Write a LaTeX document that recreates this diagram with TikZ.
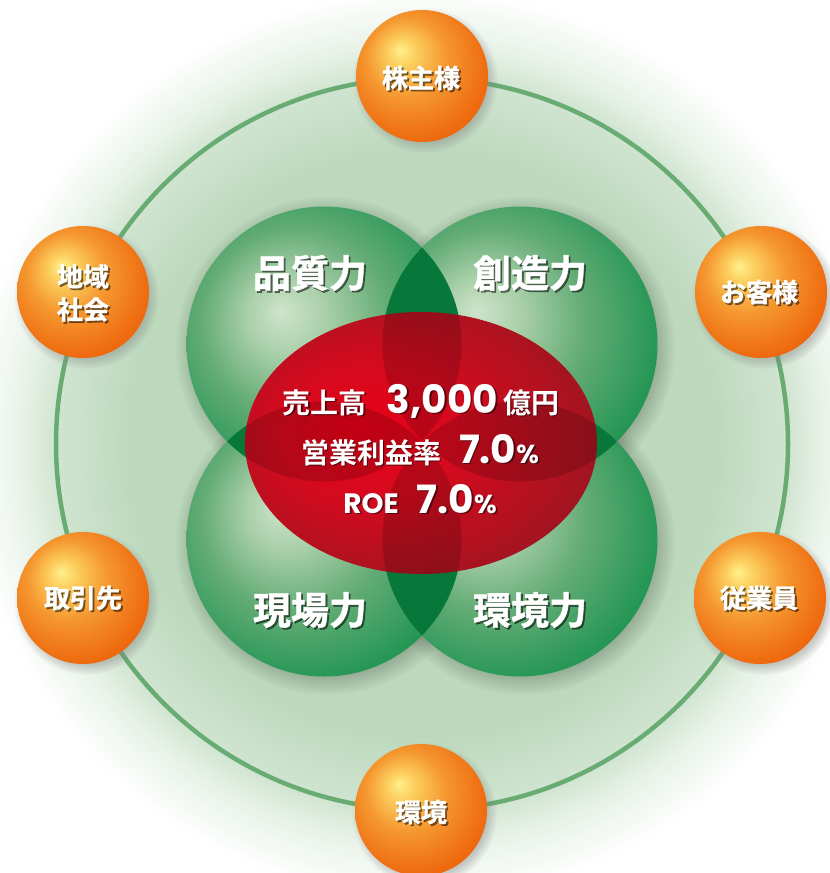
\documentclass[tikz,border=0pt]{standalone}
\usepackage{fontspec}
\newfontfamily\jp{Noto Sans CJK JP Bold}
\newfontfamily\jpheavy{Noto Sans CJK JP Bold}[FakeBold=1.2]
\newfontfamily\num{Poppins}
\usetikzlibrary{shadows,fadings}
\definecolor{ringgreen}{RGB}{104,172,116}
\definecolor{glowA}{RGB}{188,217,188}
\definecolor{glowB}{RGB}{208,228,208}
\definecolor{glowC}{RGB}{232,242,232}
\definecolor{lensgreen}{RGB}{8,120,58}
\definecolor{gA}{RGB}{206,228,202}
\definecolor{gB}{RGB}{170,208,170}
\definecolor{gC}{RGB}{100,172,118}
\definecolor{gD}{RGB}{24,146,78}
\definecolor{oA}{RGB}{255,240,140}
\definecolor{oB}{RGB}{252,208,96}
\definecolor{oC}{RGB}{245,152,48}
\definecolor{oD}{RGB}{239,110,18}
\definecolor{oE}{RGB}{232,80,0}
\definecolor{rA}{RGB}{232,0,22}
\definecolor{rB}{RGB}{214,10,30}
\definecolor{rC}{RGB}{176,18,32}
\definecolor{rD}{RGB}{136,24,34}
\pgfdeclareradialshading{glow}{\pgfpointorigin}{color(0bp)=(glowA); color(16bp)=(glowA); color(20.1bp)=(glowB); color(22bp)=(glowC); color(25bp)=(white); color(50bp)=(white)}
\pgfdeclareradialshading{greenball}{\pgfpoint{-8bp}{6bp}}{color(0bp)=(gA); color(7bp)=(gB); color(17bp)=(gC); color(31bp)=(gD); color(50bp)=(gD)}
\pgfdeclareradialshading{orangeball}{\pgfpoint{-8.5bp}{10bp}}{color(0bp)=(oA); color(5bp)=(oB); color(15bp)=(oC); color(27.5bp)=(oD); color(38bp)=(oE); color(50bp)=(oE)}
\pgfdeclareradialshading{redell}{\pgfpoint{-10bp}{3bp}}{color(0bp)=(rA); color(12.5bp)=(rB); color(25bp)=(rC); color(36bp)=(rD); color(50bp)=(rD)}
\newcommand\sdtext[4]{%
  \node[#3, text=black, text opacity=0.5, xshift=1.8pt, yshift=-1.8pt] (#1-s) at (#2) {#4};
  \node[#3, text=white] (#1) at (#2) {#4};}
\begin{document}
\begin{tikzpicture}[x=1pt,y=-1pt,
  ring/.style={draw=ringgreen, line width=4.5pt},
  gcirc/.style={circle, minimum size=275pt, inner sep=0pt, shading=greenball},
  gshadow/.style={fill=black, opacity=0.3, path fading=circle with fuzzy edge 20 percent},
  ball/.style={circle, minimum size=132pt, inner sep=0pt, shading=orangeball,
    circular drop shadow={shadow xshift=3pt, shadow yshift=-4pt, shadow scale=1.1, opacity=0.4}},
  balltxt/.style={font=\jpheavy\fontsize{26}{33}\selectfont, align=center, inner sep=0pt},
  gtxt/.style={font=\jpheavy\fontsize{38}{38}\selectfont, inner sep=0pt},
  ctxt/.style={inner sep=0pt, anchor=base},
  lensfill/.style={fill=lensgreen},
  lensdark/.style={fill=black, fill opacity=0.16},
]
\useasboundingbox (0,0) rectangle (830,873);
\fill[white] (0,0) rectangle (830,873);
% background glow
\shade[shading=glow] (422,444) circle (455);
% ring
\draw[ring] (422,444) circle (366);
% shadows of green circles
\fill[gshadow] (327,348) circle (152);
\fill[gshadow] (523,348) circle (152);
\fill[gshadow] (327,543) circle (152);
\fill[gshadow] (523,543) circle (152);
% green circles
\node[gcirc] (q) at (324,344) {};
\node[gcirc] (c) at (520,344) {};
\node[gcirc] (g) at (324,539) {};
\node[gcirc] (k) at (520,539) {};
% lenses
\begin{scope}\clip (324,344) circle (137.5); \fill[lensfill] (520,344) circle (137.5);\end{scope}
\begin{scope}\clip (324,344) circle (137.5); \fill[lensfill] (324,539) circle (137.5);\end{scope}
\begin{scope}\clip (520,344) circle (137.5); \fill[lensfill] (520,539) circle (137.5);\end{scope}
\begin{scope}\clip (324,539) circle (137.5); \fill[lensfill] (520,539) circle (137.5);\end{scope}
% red ellipse
\shade[shading=redell] (421,443) ellipse (176 and 131);
\begin{scope}
  \clip (421,443) ellipse (176 and 131);
  \begin{scope}\clip (324,344) circle (137.5); \fill[lensdark] (520,344) circle (137.5);\end{scope}
  \begin{scope}\clip (324,344) circle (137.5); \fill[lensdark] (324,539) circle (137.5);\end{scope}
  \begin{scope}\clip (520,344) circle (137.5); \fill[lensdark] (520,539) circle (137.5);\end{scope}
  \begin{scope}\clip (324,539) circle (137.5); \fill[lensdark] (520,539) circle (137.5);\end{scope}
\end{scope}
% green labels
\sdtext{tq}{310,273}{gtxt}{品質力}
\sdtext{tc}{530,273}{gtxt}{創造力}
\sdtext{tg}{310,610}{gtxt}{現場力}
\sdtext{tk}{530,610}{gtxt}{環境力}
% center text
\sdtext{l1}{421,413}{ctxt}{{\jp\fontsize{28}{28}\selectfont 売上高}\hspace{20pt}{\num\bfseries\fontsize{39}{39}\selectfont 3,000}\hspace{5pt}{\jp\fontsize{28}{28}\selectfont 億円}}
\sdtext{l2}{420,463}{ctxt}{{\jp\fontsize{28}{28}\selectfont 営業利益率}\hspace{18pt}{\num\bfseries\fontsize{39}{39}\selectfont 7.0}{\num\bfseries\fontsize{26}{26}\selectfont\%}}
\sdtext{l3}{420,513}{ctxt}{{\num\bfseries\fontsize{28}{28}\selectfont ROE}\hspace{18pt}{\num\bfseries\fontsize{39}{39}\selectfont 7.0}{\num\bfseries\fontsize{26}{26}\selectfont\%}}
% orange balls
\node[ball] (b1) at (422,76) {};
\node[ball] (b2) at (761,292) {};
\node[ball] (b3) at (760,598) {};
\node[ball] (b4) at (421,810) {};
\node[ball] (b5) at (83,598) {};
\node[ball] (b6) at (83,292) {};
\sdtext{s1}{421,78}{balltxt}{株主様}
\sdtext{s2}{759,292}{balltxt}{お客様}
\sdtext{s3}{759,598}{balltxt}{従業員}
\sdtext{s4}{421,812}{balltxt}{環境}
\sdtext{s5}{83,598}{balltxt}{取引先}
\sdtext{s6}{83,293}{balltxt}{地域\\社会}
\end{tikzpicture}
\end{document}
